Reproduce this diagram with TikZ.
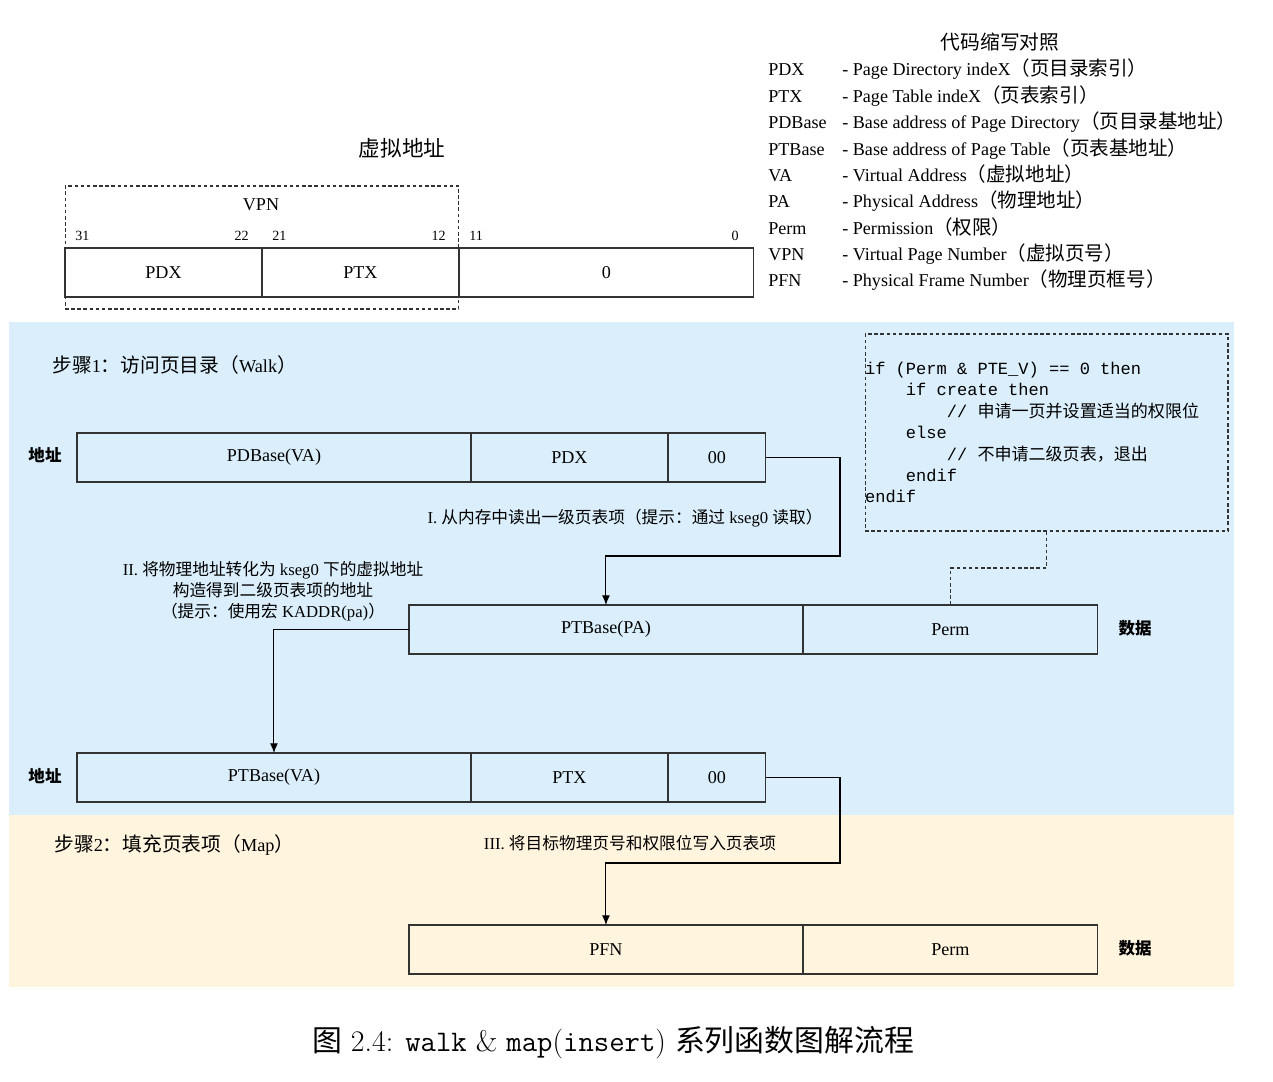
\documentclass[tikz,border=0pt]{standalone}
\usepackage{fontspec}
\usetikzlibrary{positioning,arrows.meta}
\newfontfamily\tnr{Liberation Serif}
\newfontfamily\cour{Liberation Mono}
\newfontfamily\cjk[Scale=1.08]{Noto Sans CJK SC}
\newfontfamily\cjkplain{Noto Sans CJK SC}
\newcommand\zh[1]{{\cjk #1}}
\newcommand\zs[1]{{\cjkplain #1}}
\newcommand\ind{\hspace*{2.4em}}
\definecolor{walkbg}{RGB}{218,238,251}
\definecolor{mapbg}{RGB}{255,244,222}
\definecolor{boxline}{RGB}{51,51,51}

\begin{document}
\begin{tikzpicture}[x=0.02cm, y=-0.02cm,
  field/.style={draw=boxline, line width=0.7pt, minimum height=0.98cm, inner sep=0pt,
    outer sep=0pt, font=\tnr\fontsize{10.3}{12}\selectfont},
  dashbox/.style={draw=boxline, line width=0.6pt, dash pattern=on 2pt off 1.5pt},
  link/.style={draw, line width=0.6pt, -{Latex[length=5.5pt,width=4.5pt]}},
  plain/.style={inner sep=0pt, font=\tnr\fontsize{10.3}{12}\selectfont},
  bit/.style={inner sep=0pt, font=\tnr\fontsize{8}{10}\selectfont},
  note/.style={inner sep=0pt, align=center, font=\tnr\fontsize{9.5}{11.9}\selectfont},
  stagelabel/.style={inner sep=0pt, font=\tnr\fontsize{10.4}{12}\selectfont},
  tag/.style={inner sep=0pt, font=\cjk\bfseries\fontsize{8.7}{10}\selectfont}]
\useasboundingbox (0,0) rectangle (1273,1081);

% background bands
\fill[walkbg] (9,322) rectangle (1234,815);
\fill[mapbg] (9,815) rectangle (1234,987);

% virtual address
\node[inner sep=0pt, font=\cjk\fontsize{11.4}{13}\selectfont] (vatitle) at (402,148) {虚拟地址};
\node[dashbox, minimum width=7.88cm, minimum height=2.46cm] (vpnbox) at (262,247.5) {};
\node[plain] (vpn) at (261,205) {VPN};
\node[field, minimum width=3.94cm, anchor=north west] (vpdx) at (65,248) {PDX};
\node[field, minimum width=3.94cm, right=0pt of vpdx] (vptx) {PTX};
\node[field, minimum width=5.9cm, right=0pt of vptx] (voff) {0};
\node[bit, anchor=base west] (b31) at (75,240) {31};
\node[bit, anchor=base east] (b22) at (249,240) {22};
\node[bit, anchor=base west] (b21) at (272,240) {21};
\node[bit, anchor=base east] (b12) at (446,240) {12};
\node[bit, anchor=base west] (b11) at (469,240) {11};
\node[bit, anchor=base east] (b0) at (739,240) {0};

% abbreviations
\node[inner sep=0pt, font=\cjk\fontsize{10.4}{13}\selectfont] (abbrtitle) at (1000,42) {代码缩写对照};
\node[inner sep=0pt, anchor=base west, font=\tnr\fontsize{10.3}{15}\selectfont] (abbr) at (768,76) {%
  \begin{tabular}[t]{@{}p{1.48cm}@{}l@{}}
  PDX & - Page Directory indeX\zh{（页目录索引）}\\
  PTX & - Page Table indeX\zh{（页表索引）}\\
  PDBase & - Base address of Page Directory\zh{（页目录基地址）}\\
  PTBase & - Base address of Page Table\zh{（页表基地址）}\\
  VA & - Virtual Address\zh{（虚拟地址）}\\
  PA & - Physical Address\zh{（物理地址）}\\
  Perm & - Permission\zh{（权限）}\\
  VPN & - Virtual Page Number\zh{（虚拟页号）}\\
  PFN & - Physical Frame Number\zh{（物理页框号）}
  \end{tabular}};

% step 1: walk
\node[stagelabel, anchor=west] (walk) at (52,365) {\zh{步骤}1\zh{：访问页目录（}Walk\zh{）}};
\node[dashbox, minimum width=7.26cm, minimum height=3.94cm, text width=7.26cm,
  inner sep=0pt, align=left, font=\cour\fontsize{9.7}{12.2}\selectfont] (code) at (1046.5,432.5) {%
  \spaceskip=0.6em\relax
  if (Perm \& PTE\_V) == 0 then\\
  \ind if create then\\
  \ind\ind // {\cjkplain 申请一页并设置适当的权限位}\\
  \ind else\\
  \ind\ind // {\cjkplain 不申请二级页表，退出}\\
  \ind endif\\
  endif};

\node[tag] (addrone) at (45,455) {地址};
\node[field, minimum width=7.88cm, anchor=north west] (pdbase) at (77,433) {PDBase(VA)};
\node[field, minimum width=3.94cm, right=0pt of pdbase] (pdx) {PDX};
\node[field, minimum width=1.96cm, right=0pt of pdx] (dirzero) {00};

\node[field, minimum width=7.88cm, anchor=north west] (ptbpa) at (409,605) {PTBase(PA)};
\node[field, minimum width=5.9cm, right=0pt of ptbpa] (permone) {Perm};
\node[tag] (dataone) at (1135,628) {数据};

\node[tag] (addrtwo) at (45,776) {地址};
\node[field, minimum width=7.88cm, anchor=north west] (ptbva) at (77,753) {PTBase(VA)};
\node[field, minimum width=3.94cm, right=0pt of ptbva] (ptx) {PTX};
\node[field, minimum width=1.96cm, right=0pt of ptx] (tabzero) {00};

\node[note] (hintone) at (625,518) {I. \zs{从内存中读出一级页表项（提示：通过} kseg0 \zs{读取）}};
\node[note] (hinttwo) at (273,591) {II. \zs{将物理地址转化为} kseg0 \zs{下的虚拟地址}\\
  \zs{构造得到二级页表项的地址}\\
  \zs{（提示：使用宏} KADDR(pa)\zs{）}};

% step 2: map
\node[stagelabel, anchor=west] (map) at (54,845) {\zh{步骤}2\zh{：填充页表项（}Map\zh{）}};
\node[note] (hintthree) at (630,843) {III. \zs{将目标物理页号和权限位写入页表项}};
\node[field, minimum width=7.88cm, anchor=north west] (pfn) at (409,925) {PFN};
\node[field, minimum width=5.9cm, right=0pt of pfn] (permtwo) {Perm};
\node[tag] (datatwo) at (1135,948) {数据};

% connectors
\coordinate (turnone) at (840,556);
\coordinate (turntwo) at (1000,568);
\coordinate (turnthree) at (840,863);
\draw[link] (dirzero.east) -| (turnone) -| (ptbpa.north);
\draw[link] (ptbpa.west) -| (ptbva.north);
\draw[link] (tabzero.east) -| (turnthree) -| (pfn.north);
\draw[dashbox] (code.south) |- (turntwo) -| (permone.north);

% caption
\node[inner sep=0pt, font=\fontsize{17}{20}\selectfont] (caption) at (613,1043)
  {{\cjkplain 图} 2.4: \texttt{walk} \& \texttt{map}(\texttt{insert}) {\cjkplain 系列函数图解流程}};
\end{tikzpicture}
\end{document}
